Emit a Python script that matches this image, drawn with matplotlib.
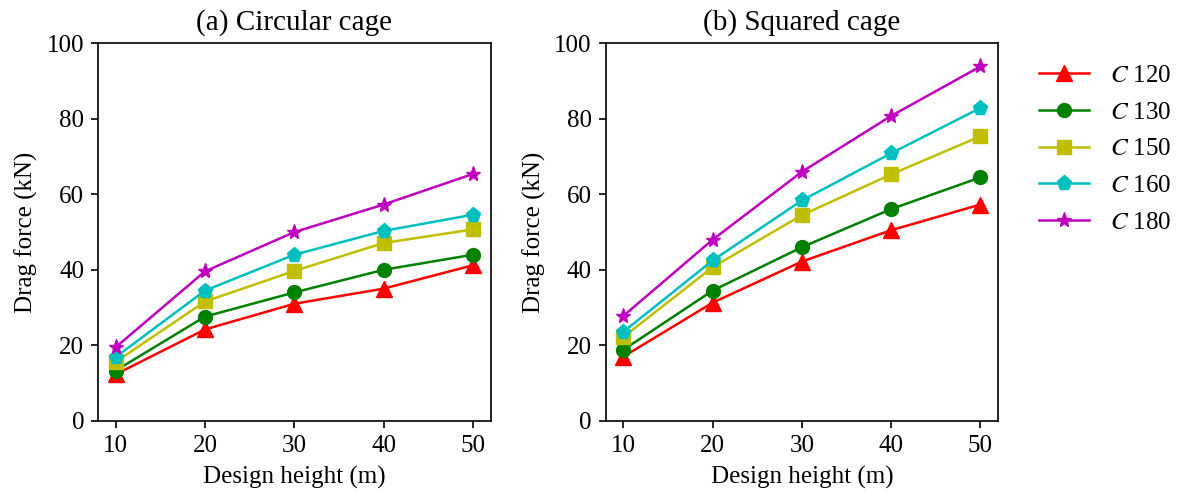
import numpy as np
import matplotlib
matplotlib.use("Agg")
import matplotlib.pyplot as plt

plt.rcParams["font.family"] = "Liberation Serif"
plt.rcParams["mathtext.fontset"] = "stix"

heights = [10, 20, 30, 40, 50]
labels = [r"$C$ 120", r"$C$ 130", r"$C$ 150", r"$C$ 160", r"$C$ 180"]

circ_c120 = [12.3, 24.2, 31.0, 35.0, 41.2]
circ_c130 = [13.3, 27.6, 34.0, 40.0, 44.0]
circ_c150 = [15.6, 31.6, 39.7, 47.1, 50.7]
circ_c160 = [16.9, 34.5, 44.0, 50.3, 54.6]
circ_c180 = [19.5, 39.6, 50.0, 57.3, 65.4]

sq_c120 = [17.0, 31.3, 42.2, 50.5, 57.3]
sq_c130 = [18.8, 34.5, 46.0, 56.1, 64.5]
sq_c150 = [22.2, 40.7, 54.5, 65.3, 75.4]
sq_c160 = [23.6, 42.5, 58.4, 70.9, 82.9]
sq_c180 = [27.8, 48.0, 66.0, 80.8, 93.9]

colors = ["r", "g", "y", "c", "m"]
markers = ["^", "o", "s", "p", "*"]
msizes = [11, 10, 10, 11, 11]

fig = plt.figure(figsize=(11.79, 4.93), dpi=100)
ax1 = fig.add_axes([0.0831, 0.1467, 0.3331, 0.7651])
ax2 = fig.add_axes([0.5137, 0.1467, 0.3330, 0.7651])

panels = [
    (ax1, "(a) Circular cage", [circ_c120, circ_c130, circ_c150, circ_c160, circ_c180]),
    (ax2, "(b) Squared cage", [sq_c120, sq_c130, sq_c150, sq_c160, sq_c180]),
]

for ax, title, series in panels:
    for vals, c, m, ms, lab in zip(series, colors, markers, msizes, labels):
        ax.plot(heights, vals, color=c, marker=m, markersize=ms, lw=1.8, label=lab)
    ax.set_xlim(8, 52)
    ax.set_ylim(0, 100)
    ax.set_xticks(heights)
    ax.set_yticks(np.arange(0, 101, 20))
    ax.tick_params(labelsize=18, length=5, width=1.2, pad=5)
    for s in ax.spines.values():
        s.set_linewidth(1.2)
    ax.set_xlabel("Design height (m)", fontsize=18, labelpad=7)
    ax.set_ylabel("Drag force (kN)", fontsize=18, labelpad=6)
    ax.set_title(title, fontsize=21, pad=10)

handles, labs = ax1.get_legend_handles_labels()
fig.legend(handles, labs, loc="upper left", bbox_to_anchor=(0.862, 0.915),
           frameon=False, fontsize=18, handlelength=2.0, handletextpad=0.85,
           labelspacing=0.57)

fig.savefig("out.png", dpi=100)
